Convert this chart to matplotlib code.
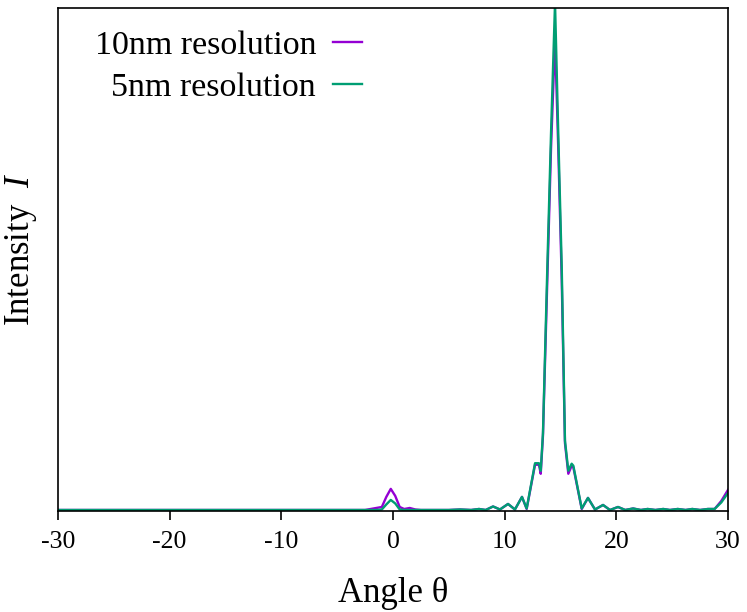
import matplotlib
matplotlib.use("Agg")
import matplotlib.pyplot as plt

plt.rcParams["font.family"] = ["Liberation Serif", "DejaVu Serif"]
plt.rcParams["mathtext.fontset"] = "custom"
plt.rcParams["mathtext.it"] = "Liberation Serif:italic"
plt.rcParams["mathtext.rm"] = "Liberation Serif"
plt.rcParams["axes.unicode_minus"] = False

# angle samples (degrees) and intensities
angle = [-30, -25, -20, -15, -10, -5, -3, -2.5, -2, -1.5, -1, -0.6, -0.2, 0.2, 0.6,
         1, 1.5, 2, 2.5, 3, 4, 5, 6, 7, 7.7, 8.3, 8.96, 9.58, 10.3, 10.92, 11.55,
         11.97, 12.72, 13.07, 13.23, 13.43, 13.82, 14.15, 14.51, 14.8, 15.11, 15.4,
         15.7, 16.0, 16.15, 16.9, 17.46, 18.09, 18.81, 19.43, 20.15, 20.8, 21.5,
         22.2, 22.8, 23.5, 24.2, 24.8, 25.5, 26.2, 26.8, 27.5, 28.2, 28.8, 29.4, 30]

intensity_10nm = [0.002, 0.002, 0.002, 0.002, 0.002, 0.002, 0.002, 0.002, 0.004, 0.006,
                  0.008, 0.028, 0.044, 0.03, 0.008, 0.004, 0.006, 0.003, 0.002, 0.002,
                  0.002, 0.002, 0.003, 0.002, 0.004, 0.002, 0.009, 0.003, 0.014, 0.003,
                  0.028, 0.004, 0.092, 0.092, 0.074, 0.15, 0.46, 0.72, 0.94, 0.72,
                  0.46, 0.135, 0.074, 0.09, 0.087, 0.004, 0.026, 0.003, 0.012, 0.002,
                  0.008, 0.002, 0.005, 0.002, 0.004, 0.002, 0.004, 0.002, 0.004, 0.002,
                  0.004, 0.002, 0.004, 0.004, 0.02, 0.042]

intensity_5nm = [0.002, 0.002, 0.002, 0.002, 0.002, 0.002, 0.002, 0.002, 0.002, 0.002,
                 0.003, 0.013, 0.022, 0.015, 0.003, 0.002, 0.002, 0.002, 0.002, 0.002,
                 0.002, 0.002, 0.003, 0.002, 0.004, 0.002, 0.009, 0.003, 0.014, 0.003,
                 0.028, 0.005, 0.095, 0.095, 0.08, 0.155, 0.485, 0.75, 1.01, 0.75,
                 0.485, 0.14, 0.08, 0.094, 0.09, 0.005, 0.026, 0.003, 0.012, 0.002,
                 0.008, 0.002, 0.005, 0.002, 0.004, 0.002, 0.004, 0.002, 0.004, 0.002,
                 0.004, 0.002, 0.004, 0.004, 0.017, 0.036]

fig = plt.figure(figsize=(7.47, 6.12), dpi=100)
ax = fig.add_axes([58/747, 1 - 511/612, 670/747, 503/612])

ax.plot(angle, intensity_10nm, color="#9400d3", lw=1.7, label="10nm resolution")
ax.plot(angle, intensity_5nm, color="#009e73", lw=1.7, label="5nm resolution")

ax.set_xlim(-30, 30)
ax.set_ylim(0, 1.0)
ax.set_xticks([-30, -20, -10, 0, 10, 20, 30])
ax.set_yticks([])
ax.tick_params(axis="x", direction="out", length=6.5, width=1.2, pad=8, labelsize=18.5)
for s in ax.spines.values():
    s.set_linewidth(1.2)

ax.set_xlabel("Angle θ", fontsize=25, labelpad=17)
ax.set_ylabel(r"Intensity  $I$", fontsize=25)
ax.yaxis.set_label_coords(-0.028, 0.52)

ax.legend(loc="upper right", bbox_to_anchor=(362/747, 1 - 30/612),
          bbox_transform=fig.transFigure, frameon=False, markerfirst=False,
          fontsize=24.5, handlelength=0.85, handletextpad=0.5,
          labelspacing=0.33, borderpad=0, borderaxespad=0)

plt.savefig("out.png", dpi=100)
